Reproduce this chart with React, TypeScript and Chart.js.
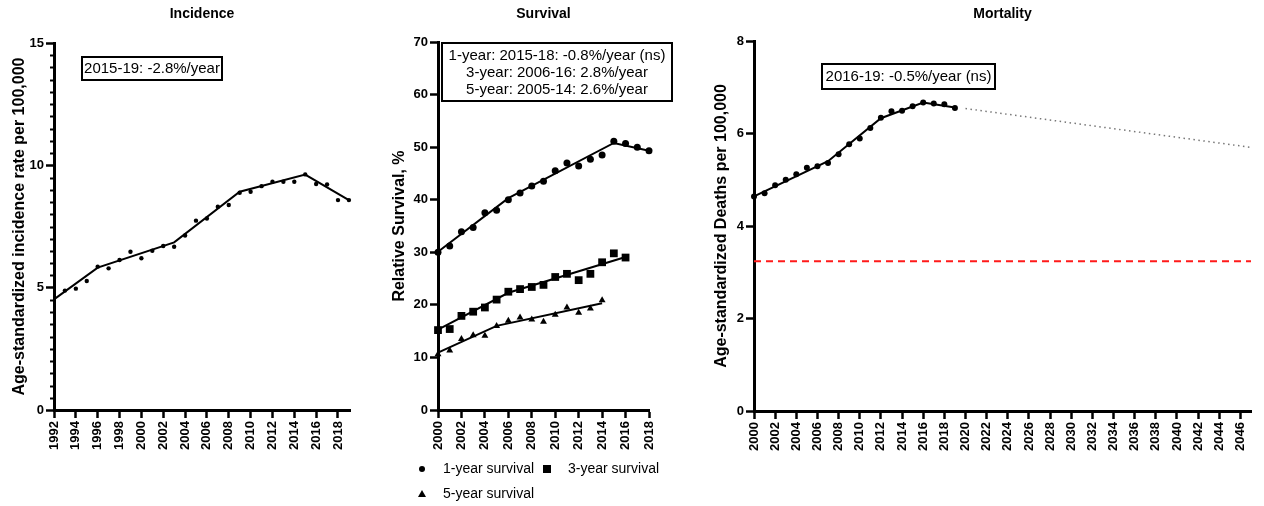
import { useEffect, useRef } from "react";
import { Chart, registerables } from "chart.js";

Chart.register(...registerables);

const FONT = "'Liberation Sans', Arial, Helvetica, sans-serif";

// ---------------- Incidence ----------------
const incYears = [1993, 1994, 1995, 1996, 1997, 1998, 1999, 2000, 2001, 2002, 2003, 2004, 2005, 2006, 2007, 2008, 2009, 2010, 2011, 2012, 2013, 2014, 2015, 2016, 2017, 2018, 2019];
const incRates = [4.88, 4.96, 5.27, 5.86, 5.79, 6.13, 6.47, 6.2, 6.51, 6.7, 6.67, 7.13, 7.74, 7.83, 8.31, 8.38, 8.88, 8.92, 9.15, 9.33, 9.33, 9.33, 9.63, 9.24, 9.22, 8.58, 8.58];
const incFitYears = [1992, 1996, 2003, 2009, 2015, 2019];
const incFitRates = [4.52, 5.82, 6.85, 8.92, 9.62, 8.58];
const incXTicks = [1992, 1994, 1996, 1998, 2000, 2002, 2004, 2006, 2008, 2010, 2012, 2014, 2016, 2018];
const incYTicks = [0, 5, 10, 15];

// ---------------- Survival ----------------
const surv1Years = [2000, 2001, 2002, 2003, 2004, 2005, 2006, 2007, 2008, 2009, 2010, 2011, 2012, 2013, 2014, 2015, 2016, 2017, 2018];
const surv1Values = [30.0, 31.2, 33.9, 34.7, 37.5, 38.0, 40.0, 41.3, 42.6, 43.5, 45.5, 47.0, 46.4, 47.7, 48.5, 51.1, 50.7, 50.0, 49.3];
const surv3Years = [2000, 2001, 2002, 2003, 2004, 2005, 2006, 2007, 2008, 2009, 2010, 2011, 2012, 2013, 2014, 2015, 2016];
const surv3Values = [15.2, 15.4, 17.9, 18.7, 19.5, 21.0, 22.5, 23.0, 23.4, 23.8, 25.3, 25.9, 24.7, 25.9, 28.1, 29.8, 29.0];
const surv5Years = [2000, 2001, 2002, 2003, 2004, 2005, 2006, 2007, 2008, 2009, 2010, 2011, 2012, 2013, 2014];
const surv5Values = [10.6, 11.3, 13.5, 14.2, 14.1, 16.0, 17.0, 17.6, 17.2, 16.8, 18.1, 19.5, 18.5, 19.3, 20.9];
const fit1Years = [2000, 2006, 2015, 2018];
const fit1Values = [30.1, 40.3, 50.8, 49.3];
const fit3Years = [2000, 2006, 2016];
const fit3Values = [15.3, 22.3, 29.1];
const fit5Years = [2000, 2005, 2014];
const fit5Values = [10.9, 16.0, 20.3];
const survXTicks = [2000, 2002, 2004, 2006, 2008, 2010, 2012, 2014, 2016, 2018];
const survYTicks = [0, 10, 20, 30, 40, 50, 60, 70];
const survLegend = ["1-year survival", "3-year survival", "5-year survival"];

// ---------------- Mortality ----------------
const mortYears = [2000, 2001, 2002, 2003, 2004, 2005, 2006, 2007, 2008, 2009, 2010, 2011, 2012, 2013, 2014, 2015, 2016, 2017, 2018, 2019];
const mortRates = [4.64, 4.71, 4.88, 5.0, 5.12, 5.26, 5.29, 5.36, 5.55, 5.77, 5.89, 6.12, 6.34, 6.48, 6.49, 6.59, 6.67, 6.65, 6.63, 6.55];
const mortFitYears = [2000, 2007, 2012, 2016, 2019];
const mortFitRates = [4.64, 5.4, 6.33, 6.67, 6.56];
const projYears = [2020, 2047];
const projRates = [6.54, 5.7];
const targetYears = [2000, 2047];
const targetRates = [3.24, 3.24];
const mortXTicks = [2000, 2002, 2004, 2006, 2008, 2010, 2012, 2014, 2016, 2018, 2020, 2022, 2024, 2026, 2028, 2030, 2032, 2034, 2036, 2038, 2040, 2042, 2044, 2046];
const mortYTicks = [0, 2, 4, 6, 8];

const xy = (xs: number[], ys: number[]) => xs.map((x, i) => ({ x, y: ys[i] }));

function xScale(min: number, max: number, ticks: number[], height: number) {
  return {
    type: "linear",
    min,
    max,
    afterBuildTicks: (s: any) => {
      s.ticks = ticks.map((v) => ({ value: v }));
    },
    afterFit: (s: any) => {
      s.height = height;
    },
    ticks: {
      autoSkip: false,
      minRotation: 90,
      maxRotation: 90,
      padding: 3,
      color: "#000",
      font: { family: FONT, size: 13, weight: "bold" },
      callback: (v: any) => String(v),
    },
    grid: { drawOnChartArea: false, tickLength: 8, tickWidth: 2.5, tickColor: "#000" },
    border: { color: "#000", width: 3 },
  };
}

function yScale(min: number, max: number, ticks: number[], width: number, title: string, titlePad: number) {
  return {
    type: "linear",
    min,
    max,
    afterBuildTicks: (s: any) => {
      s.ticks = ticks.map((v) => ({ value: v }));
    },
    afterFit: (s: any) => {
      s.width = width;
    },
    ticks: {
      padding: 2,
      color: "#000",
      font: { family: FONT, size: 13, weight: "bold" },
      callback: (v: any) => String(v),
    },
    grid: { drawOnChartArea: false, tickLength: 8, tickWidth: 2.5, tickColor: "#000" },
    border: { color: "#000", width: 3 },
    title: {
      display: true,
      text: title,
      color: "#000",
      font: { family: FONT, size: 16, weight: "bold" },
      padding: { top: titlePad, bottom: 0 },
    },
  };
}

type Decor = {
  title: string;
  titleY: number;
  box?: { left: number; top: number; right: number; bottom: number; lines: string[]; firstY: number; gap: number };
  minorY?: { from: number; to: number; step: number; major: number; len: number };
  legend?: boolean;
};

function decorPlugin(cfg: Decor) {
  return {
    id: "decor",
    afterDraw(chart: any) {
      const ctx = chart.ctx as CanvasRenderingContext2D;
      const ca = chart.chartArea;
      ctx.save();
      ctx.fillStyle = "#000";
      ctx.strokeStyle = "#000";
      ctx.font = `bold 14px ${FONT}`;
      ctx.textAlign = "center";
      ctx.textBaseline = "middle";
      ctx.fillText(cfg.title, (ca.left + ca.right) / 2, cfg.titleY);

      if (cfg.box) {
        const b = cfg.box;
        ctx.lineWidth = 2;
        ctx.fillStyle = "#fff";
        ctx.fillRect(b.left, b.top, b.right - b.left, b.bottom - b.top);
        ctx.strokeRect(b.left, b.top, b.right - b.left, b.bottom - b.top);
        ctx.fillStyle = "#000";
        ctx.font = `15px ${FONT}`;
        b.lines.forEach((t, i) => ctx.fillText(t, (b.left + b.right) / 2, b.firstY + i * b.gap));
      }

      if (cfg.minorY) {
        const m = cfg.minorY;
        const ys = chart.scales.y;
        ctx.lineWidth = 2;
        for (let v = m.from; v <= m.to + 1e-9; v += m.step) {
          if (Math.abs(v / m.major - Math.round(v / m.major)) < 1e-6) continue;
          const py = Math.round(ys.getPixelForValue(v)) + 0.5;
          ctx.beginPath();
          ctx.moveTo(ca.left - m.len, py);
          ctx.lineTo(ca.left, py);
          ctx.stroke();
        }
      }

      if (cfg.legend) {
        ctx.font = `14px ${FONT}`;
        ctx.textAlign = "left";
        ctx.fillStyle = "#000";
        const row1 = 469;
        const row2 = 494;
        // circle
        ctx.beginPath();
        ctx.arc(52, row1, 3, 0, Math.PI * 2);
        ctx.fill();
        ctx.fillText(survLegend[0], 73, row1);
        // square
        ctx.fillRect(173, row1 - 4, 8, 8);
        ctx.fillText(survLegend[1], 198, row1);
        // triangle
        ctx.beginPath();
        ctx.moveTo(52, row2 - 4);
        ctx.lineTo(56, row2 + 3);
        ctx.lineTo(48, row2 + 3);
        ctx.closePath();
        ctx.fill();
        ctx.fillText(survLegend[2], 73, row2);
      }
      ctx.restore();
    },
  };
}

const scatterDs = (data: any[], style: string, radius: number) => ({
  type: "scatter",
  data,
  showLine: false,
  pointStyle: style,
  pointRadius: radius,
  pointHoverRadius: radius,
  pointBackgroundColor: "#000",
  pointBorderColor: "#000",
  pointBorderWidth: 0,
  clip: false,
});

const lineDs = (data: any[], color = "#000", width = 2, dash: number[] = []) => ({
  type: "line",
  data,
  borderColor: color,
  borderWidth: width,
  borderDash: dash,
  pointRadius: 0,
  fill: false,
  tension: 0,
  clip: false,
});

function makeConfig(datasets: any[], scales: any, padding: any, decor: Decor) {
  return {
    type: "scatter",
    data: { datasets },
    options: {
      responsive: false,
      animation: false,
      devicePixelRatio: 1,
      layout: { padding },
      plugins: { legend: { display: false }, tooltip: { enabled: false }, title: { display: false } },
      scales,
    },
    plugins: [decorPlugin(decor)],
  };
}

function Panel({ left, width, config }: { left: number; width: number; config: any }) {
  const ref = useRef<HTMLCanvasElement | null>(null);
  useEffect(() => {
    if (!ref.current) return;
    const chart = new Chart(ref.current, config);
    return () => chart.destroy();
  }, []);
  return (
    <div style={{ position: "absolute", left, top: 0, width, height: 506 }}>
      <canvas ref={ref} width={width} height={506} style={{ display: "block" }} />
    </div>
  );
}

const incidenceConfig = makeConfig(
  [scatterDs(xy(incYears, incRates), "circle", 2.2), lineDs(xy(incFitYears, incFitRates))],
  {
    x: xScale(1992, 2019.1, incXTicks, 96),
    y: yScale(0, 15, incYTicks, 54, "Age-standardized incidence rate per 100,000", 10),
  },
  { left: 0, top: 43, right: 20, bottom: 0 },
  {
    title: "Incidence",
    titleY: 14,
    box: { left: 82, top: 57, right: 222, bottom: 80, lines: ["2015-19: -2.8%/year"], firstY: 69, gap: 17 },
    minorY: { from: 0, to: 15, step: 0.5, major: 5, len: 4 },
  }
);

const survivalConfig = makeConfig(
  [
    scatterDs(xy(surv1Years, surv1Values), "circle", 3.5),
    scatterDs(xy(surv3Years, surv3Values), "rect", 5.5),
    scatterDs(xy(surv5Years, surv5Values), "triangle", 4),
    lineDs(xy(fit1Years, fit1Values)),
    lineDs(xy(fit3Years, fit3Values)),
    lineDs(xy(fit5Years, fit5Values)),
  ],
  {
    x: xScale(2000, 2018, survXTicks, 96),
    y: yScale(0, 70, survYTicks, 68, "Relative Survival, %", 20),
  },
  { left: 0, top: 42, right: 41, bottom: 0 },
  {
    title: "Survival",
    titleY: 14,
    box: {
      left: 72,
      top: 43,
      right: 302,
      bottom: 101,
      lines: ["1-year: 2015-18: -0.8%/year (ns)", "3-year: 2006-16: 2.8%/year", "5-year: 2005-14: 2.6%/year"],
      firstY: 56,
      gap: 17,
    },
    legend: true,
  }
);

const mortalityConfig = makeConfig(
  [
    scatterDs(xy(mortYears, mortRates), "circle", 3),
    lineDs(xy(mortFitYears, mortFitRates)),
    lineDs(xy(projYears, projRates), "#777", 1.5, [1.5, 3.5]),
    lineDs(xy(targetYears, targetRates), "#ff1a1a", 2, [7, 5]),
  ],
  {
    x: xScale(2000, 2047, mortXTicks, 95),
    y: yScale(0, 8, mortYTicks, 64, "Age-standardized Deaths per 100,000", 22),
  },
  { left: 0, top: 41, right: 13, bottom: 0 },
  {
    title: "Mortality",
    titleY: 14,
    box: { left: 132, top: 64, right: 305, bottom: 89, lines: ["2016-19: -0.5%/year (ns)"], firstY: 77, gap: 17 },
  }
);

export default function App() {
  return (
    <div style={{ position: "absolute", left: 0, top: 0, width: 1264, height: 506, background: "#fff", overflow: "hidden" }}>
      <Panel left={0} width={370} config={incidenceConfig} />
      <Panel left={370} width={320} config={survivalConfig} />
      <Panel left={690} width={574} config={mortalityConfig} />
    </div>
  );
}
